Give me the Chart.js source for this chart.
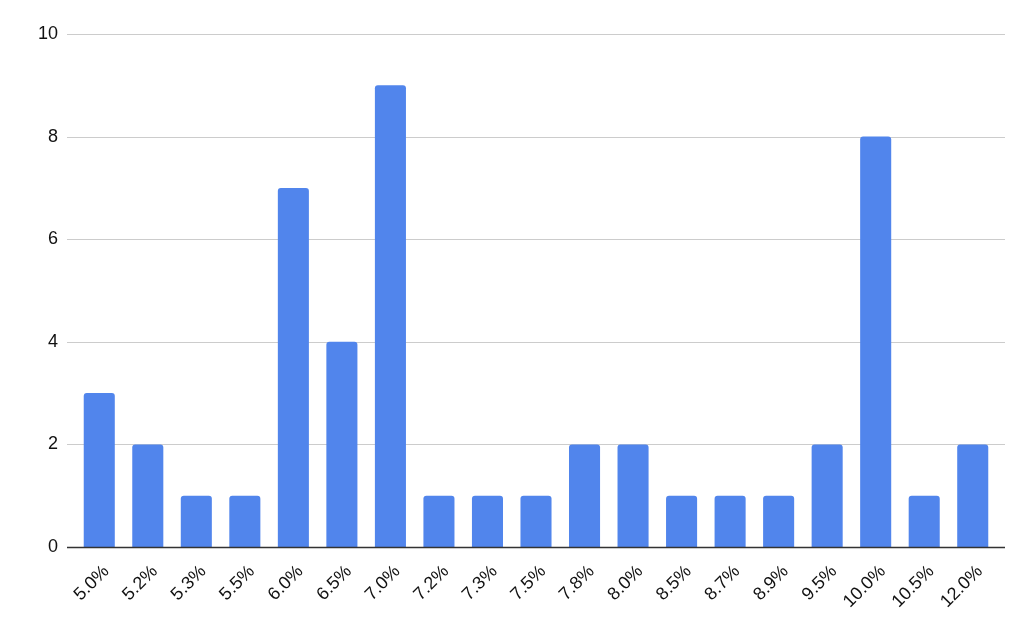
<!DOCTYPE html>
<html>
<head>
<meta charset="utf-8">
<script src="https://cdn.jsdelivr.net/npm/chart.js@4/dist/chart.umd.min.js"></script>
<style>
  html, body { margin: 0; padding: 0; background: #fff; }
  #wrap { width: 1024px; height: 634px; }
</style>
</head>
<body>
<div id="wrap"><canvas id="c" width="1024" height="634"></canvas></div>
<script>
var rates = ["5.0%", "5.2%", "5.3%", "5.5%", "6.0%", "6.5%", "7.0%", "7.2%", "7.3%", "7.5%",
             "7.8%", "8.0%", "8.5%", "8.7%", "8.9%", "9.5%", "10.0%", "10.5%", "12.0%"];
var counts = [3, 2, 1, 1, 7, 4, 9, 1, 1, 1, 2, 2, 1, 1, 1, 2, 8, 1, 2];
var yTicks = [0, 2, 4, 6, 8, 10];

var fontFam = "'Liberation Sans', Arial, sans-serif";

// sheets-style gridlines run a little past the first and last bar slots
var wideGrid = {
	id: 'wideGrid',
	beforeDatasetsDraw: function(chart) {
		var c = chart.ctx, a = chart.chartArea, y = chart.scales.y;
		c.save();
		yTicks.forEach(function(v) {
			if (v === 0) return;
			var py = Math.round(y.getPixelForValue(v)) + 0.5;
			c.beginPath();
			c.moveTo(a.left - 8, py);
			c.lineTo(a.right + 8, py);
			c.lineWidth = 1;
			c.strokeStyle = '#cccccc';
			c.stroke();
		});
		c.restore();
	},
	afterDatasetsDraw: function(chart) {
		var c = chart.ctx, a = chart.chartArea, y = chart.scales.y;
		var py = y.getPixelForValue(0) + 0.5;
		c.save();
		c.beginPath();
		c.moveTo(a.left - 8, py);
		c.lineTo(a.right + 8, py);
		c.lineWidth = 1.5;
		c.strokeStyle = '#333333';
		c.stroke();
		c.restore();
	}
};

var ctx = document.getElementById('c').getContext('2d');
var chart = new Chart(ctx, {
	type: 'bar',
	data: {
		labels: rates,
		datasets: [{
			data: counts,
			backgroundColor: '#5185ec',
			borderRadius: { topLeft: 3, topRight: 3, bottomLeft: 0, bottomRight: 0 },
			borderSkipped: 'bottom',
			categoryPercentage: 1.0,
			barPercentage: 0.64
		}]
	},
	options: {
		responsive: false,
		animation: false,
		layout: { padding: { left: 0, right: 27, top: 34, bottom: 0 } },
		plugins: { legend: { display: false }, tooltip: { enabled: false } },
		scales: {
			x: {
				grid: { display: false },
				border: { display: false },
				ticks: {
					color: '#111',
					font: { family: fontFam, size: 18 },
					minRotation: 45,
					maxRotation: 45,
					padding: 6,
					labelOffset: 7,
					autoSkip: false
				},
				afterFit: function(s) { s.height = 87; }
			},
			y: {
				min: 0,
				max: 10,
				afterBuildTicks: function(s) { s.ticks = yTicks.map(function(v) { return { value: v }; }); },
				grid: { display: false },
				border: { display: false },
				ticks: {
					color: '#111',
					font: { family: fontFam, size: 18 },
					padding: 9
				},
				afterFit: function(s) { s.width = 75; }
			}
		}
	},
	plugins: [wideGrid]
});
</script>
</body>
</html>
